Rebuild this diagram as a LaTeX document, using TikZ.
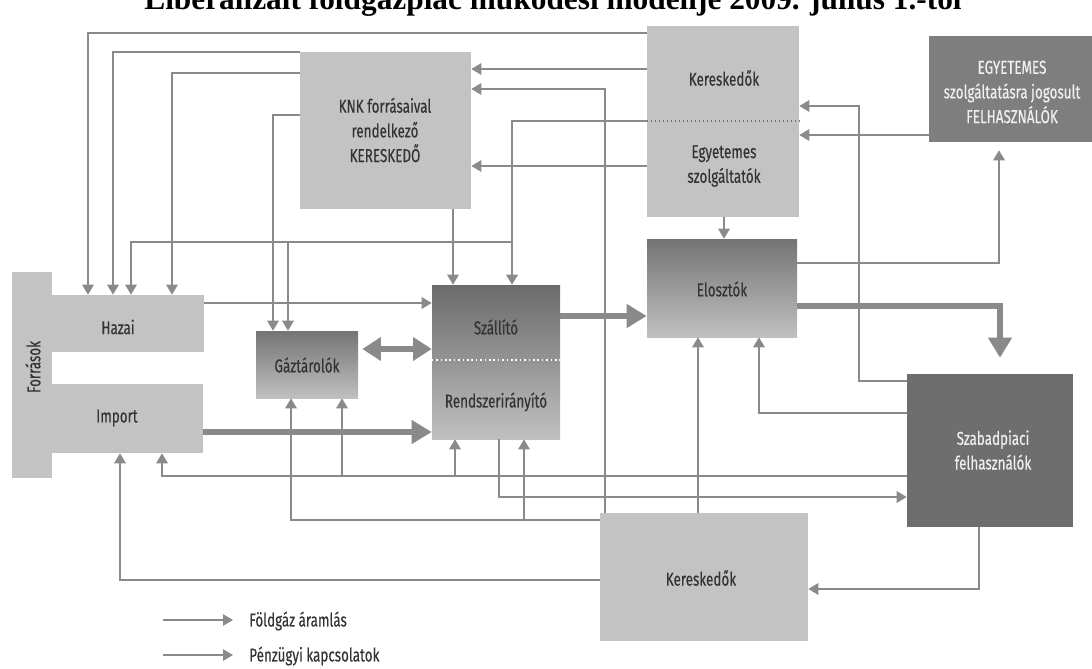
\documentclass[tikz,border=0pt]{standalone}
\usepackage{fontspec}
\setmainfont{Fira Sans}[FakeStretch=0.72,FakeBold=0.3]
\newfontfamily\titlefont{Liberation Serif}
\usetikzlibrary{arrows.meta,fit}
\definecolor{boxlight}{HTML}{C3C3C3}
\definecolor{boxmid}{HTML}{7E7E7E}
\definecolor{boxdark}{HTML}{6E6E6E}
\definecolor{gradtop}{HTML}{747474}
\definecolor{gradbot}{HTML}{C0C0C0}
\definecolor{linegray}{HTML}{8A8A8A}
\definecolor{txtdark}{HTML}{333333}
\begin{document}
\begin{tikzpicture}[x=0.75pt,y=-0.75pt,
  lightbox/.style={fill=boxlight,inner sep=0pt,draw=none},
  midbox/.style={fill=boxmid,inner sep=0pt,draw=none},
  darkbox/.style={fill=boxdark,inner sep=0pt,draw=none},
  gradbox/.style={top color=gradtop,bottom color=gradbot,inner sep=0pt,draw=none},
  txt/.style={text=txtdark,align=center,inner sep=0pt,font=\fontsize{14}{18.5}\selectfont},
  wtxt/.style={txt,text=white!94!black},
  conn/.style={draw=linegray,line width=1.5pt},
  fin/.style={conn,-{Triangle[length=7.5pt,width=8.5pt]}},
  gas/.style={draw=linegray,line width=3.8pt,-{Triangle[length=15pt,width=17pt]}},
  gastwo/.style={draw=linegray,line width=3.8pt,{Triangle[length=14pt,width=17pt]}-{Triangle[length=14pt,width=17pt]}},
]
\useasboundingbox (0,0) rectangle (1092,668);

% title line, partly above the page edge
\node[anchor=base,inner sep=0pt,font=\titlefont\bfseries\fontsize{23.5}{28}\selectfont] (title) at (553,9)
  {Liberalizált földgázpiac működési modellje 2009. július 1.-től};

% sources (T shape)
\node[lightbox,fit={(12,272)(52,478)}] (forr) {};
\node[lightbox,fit={(51,295)(204,352)}] (hazai) {};
\node[lightbox,fit={(51,384)(203,453)}] (imp) {};
\node[txt,rotate=90] (t-forr) at (33,367) {Források};
\node[txt] (t-hazai) at (118,327) {Hazai};
\node[txt] (t-imp) at (117,418) {Import};

% market players
\node[lightbox,fit={(300,52)(471,209)}] (knk) {};
\node[txt] (t-knk) at (385,130) {KNK forrásaival\\rendelkező\\KERESKEDŐ};

\node[lightbox,fit={(647,26)(799,217)}] (ker) {};
\node[txt] (t-ker) at (724,78) {Kereskedők};
\node[txt] (t-esz) at (724,166) {Egyetemes\\szolgáltatók};

\node[midbox,fit={(929,36)(1092,142)}] (egy) {};
\node[wtxt] (t-egy) at (1012,92) {EGYETEMES\\szolgáltatásra jogosult\\FELHASZNÁLÓK};

\node[gradbox,fit={(256,331)(358,398)}] (gaz) {};
\node[txt] (t-gaz) at (307,365) {Gáztárolók};

\node[gradbox,top color=gradtop!92!black,fit={(432,285)(560,439)}] (szall) {};
\node[txt] (t-szall) at (496,327) {Szállító};
\node[txt] (t-rend) at (496,402) {Rendszerirányító};

\node[gradbox,fit={(647,239)(797,337)}] (elo) {};
\node[txt] (t-elo) at (722,289) {Elosztók};

\node[darkbox,fit={(907,374)(1073,527)}] (szab) {};
\node[wtxt] (t-szab) at (993,450) {Szabadpiaci\\felhasználók};

\node[lightbox,fit={(600,513)(808,641)}] (kerb) {};
\node[txt] (t-kerb) at (701,578) {Kereskedők};

% inner dividers
\draw[white,dotted,line width=1.3pt] (szall.west |- 0,360) -- (szall.east |- 0,360);
\draw[linegray!85!black,dotted,line width=1pt] (ker.west |- 0,121) -- (ker.east |- 0,121);

% junction points
\coordinate (j242) at (512,242);
\coordinate (j242b) at (288,242);
\coordinate (j476a) at (342,476);
\coordinate (j476b) at (455,476);
\coordinate (j520) at (524,520);
\coordinate (bend106) at (859,106);

% financial links and minor flows
\draw[fin] (ker.west |- 0,33) -| (hazai.north -| 88,0);
\draw[fin] (knk.north west) -| (hazai.north -| 113,0);
\draw[fin] (knk.west |- 0,73) -| (hazai.north -| 172,0);
\draw[fin] (ker.west |- 0,121) -| (szall.north -| j242);
\draw[fin] (j242) -| (hazai.north -| 131,0);
\draw[fin] (j242b) -- (gaz.north -| j242b);
\draw[fin] (knk.west |- 0,115) -| (gaz.north -| 273,0);
\draw[fin] (knk.south -| 453,0) -- (szall.north -| 453,0);
\draw[fin] (ker.west |- 0,69) -- (knk.east |- 0,69);
\draw[fin] (ker.west |- 0,166) -- (knk.east |- 0,166);
\draw[fin] (kerb.north -| 605,0) |- (knk.east |- 0,89);
\draw[fin] (szab.west |- 0,381) -| (bend106) -- (ker.east |- bend106);
\draw[fin] (egy.west |- 0,135) -- (ker.east |- 0,135);
\draw[fin] (ker.south -| 724,0) -- (elo.north -| 724,0);
\draw[fin,shorten >=6pt] (elo.east |- 0,263) -| (egy.south -| 999,0);
\draw[fin] (szab.west |- 0,413) -| (elo.south -| 759,0);
\draw[fin] (kerb.north -| 698,0) -- (elo.south -| 698,0);
\draw[fin] (szab.west |- 0,476) -| (imp.south -| 162,0);
\draw[fin] (j476a) -- (gaz.south -| j476a);
\draw[fin] (j476b) -- (szall.south -| j476b);
\draw[fin] (szall.south -| 499,0) |- (szab.west |- 0,497);
\draw[fin] (kerb.west |- 0,520) -| (gaz.south -| 291,0);
\draw[fin] (j520) -- (szall.south -| j520);
\draw[fin] (kerb.west |- 0,580) -| (imp.south -| 120,0);
\draw[fin] (szab.south -| 979,0) |- (kerb.east |- 0,589);
\draw[fin] (hazai.east |- 0,303) -- (szall.west |- 0,303);

% main gas flows
\draw[gas] (imp.east |- 0,432) -- (szall.west |- 0,432);
\draw[gastwo,shorten <=3pt] (gaz.east |- 0,349) -- (szall.west |- 0,349);
\draw[gas] (szall.east |- 0,316) -- (elo.west |- 0,316);
\draw[gas,shorten >=12pt] (elo.east |- 0,306) -| (szab.north -| 1000,0);

% legend
\coordinate (lg1a) at (163,620);
\coordinate (lg1b) at (233,620);
\coordinate (lg2a) at (163,655);
\coordinate (lg2b) at (233,655);
\draw[fin] (lg1a) -- (lg1b);
\draw[fin] (lg2a) -- (lg2b);
\node[txt,anchor=west] (lg1) at (249,621) {Földgáz áramlás};
\node[txt,anchor=west] (lg2) at (249,656) {Pénzügyi kapcsolatok};
\end{tikzpicture}
\end{document}
